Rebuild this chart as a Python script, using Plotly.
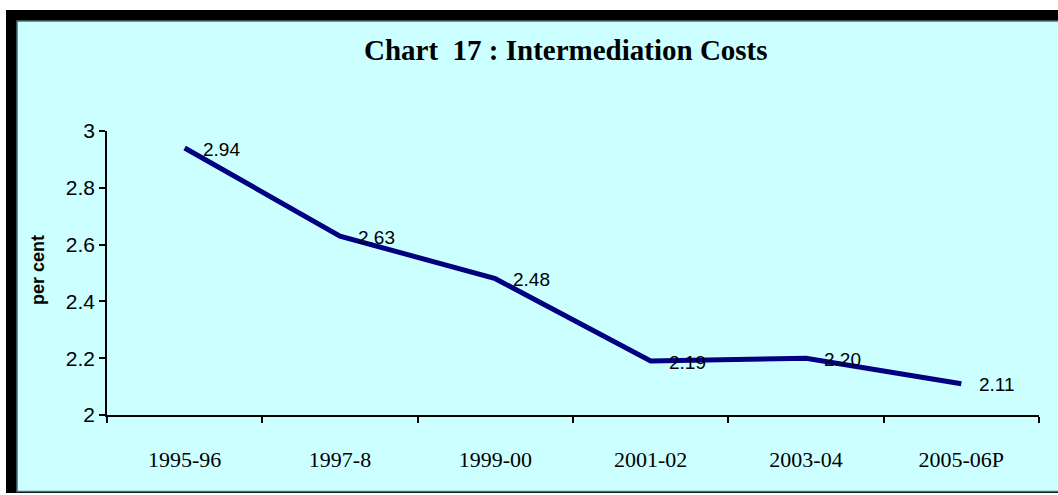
import plotly.graph_objects as go

categories = ["1995-96", "1997-8", "1999-00", "2001-02", "2003-04", "2005-06P"]
values = [2.94, 2.63, 2.48, 2.19, 2.20, 2.11]
value_labels = ["2.94", "2.63", "2.48", "2.19", "2.20", "2.11"]
y_ticks = [2, 2.2, 2.4, 2.6, 2.8, 3]
y_tick_labels = ["2", "2.2", "2.4", "2.6", "2.8", "3"]

W, H = 1058, 495
L, R, T, B = 107, 19, 131, 80
PW, PH = W - L - R, H - T - B


def px(x):
    return (x - L) / PW


def py(y):
    return (H - B - y) / PH


fig = go.Figure()
fig.add_trace(go.Scatter(
    x=categories, y=values, mode="lines",
    line=dict(color="#000080", width=5),
    hoverinfo="skip", showlegend=False,
))

for c, v, t in zip(categories, values, value_labels):
    fig.add_annotation(x=c, y=v, text=t, showarrow=False, xanchor="left",
                       yanchor="middle", xshift=16, yshift=-1,
                       font=dict(family="Liberation Sans, Arial", size=19, color="#000000"))

fig.add_shape(type="rect", xref="paper", yref="paper", layer="below",
              x0=px(6), x1=px(W + 60), y0=py(493), y1=py(10),
              fillcolor="#000000", line=dict(width=0))
fig.add_shape(type="rect", xref="paper", yref="paper", layer="below",
              x0=px(17), x1=px(W + 60), y0=py(491.5), y1=py(21),
              fillcolor="#CCFFFF", line=dict(width=1.5, color="#4f6f6f"))

fig.add_annotation(xref="paper", yref="paper", x=px(566), y=py(50),
                   text="<b>Chart  17 : Intermediation Costs</b>", showarrow=False,
                   xanchor="center", yanchor="middle",
                   font=dict(family="Liberation Serif, Times New Roman", size=29, color="#000000"))

fig.add_annotation(xref="paper", yref="paper", x=px(38), y=py(270),
                   text="<b>per cent</b>", showarrow=False, textangle=-90,
                   xanchor="center", yanchor="middle",
                   font=dict(family="Liberation Sans, Arial", size=18, color="#000000"))

fig.update_layout(
    width=W, height=H,
    margin=dict(l=L, r=R, t=T, b=B),
    paper_bgcolor="#FFFFFF",
    plot_bgcolor="rgba(0,0,0,0)",
    xaxis=dict(
        type="category", tickson="boundaries", ticks="outside", ticklen=6,
        tickcolor="#000000", tickwidth=1.5,
        showline=True, linecolor="#000000", linewidth=1.5,
        showgrid=False, zeroline=False,
        ticklabelstandoff=24,
        tickfont=dict(family="Liberation Serif, Times New Roman", size=22, color="#000000"),
        range=[-0.5, 5.5], fixedrange=True,
    ),
    yaxis=dict(
        range=[2, 3], tickvals=y_ticks, ticktext=y_tick_labels,
        ticks="outside", ticklen=6, tickcolor="#000000", tickwidth=1.5,
        showline=True, linecolor="#000000", linewidth=1.5,
        showgrid=False, zeroline=False,
        tickfont=dict(family="Liberation Sans, Arial", size=21, color="#000000"),
        fixedrange=True,
    ),
)

fig.write_html("out.html", config={"displayModeBar": False},
               post_script="document.body.style.margin='0';document.body.style.overflow='hidden';")
